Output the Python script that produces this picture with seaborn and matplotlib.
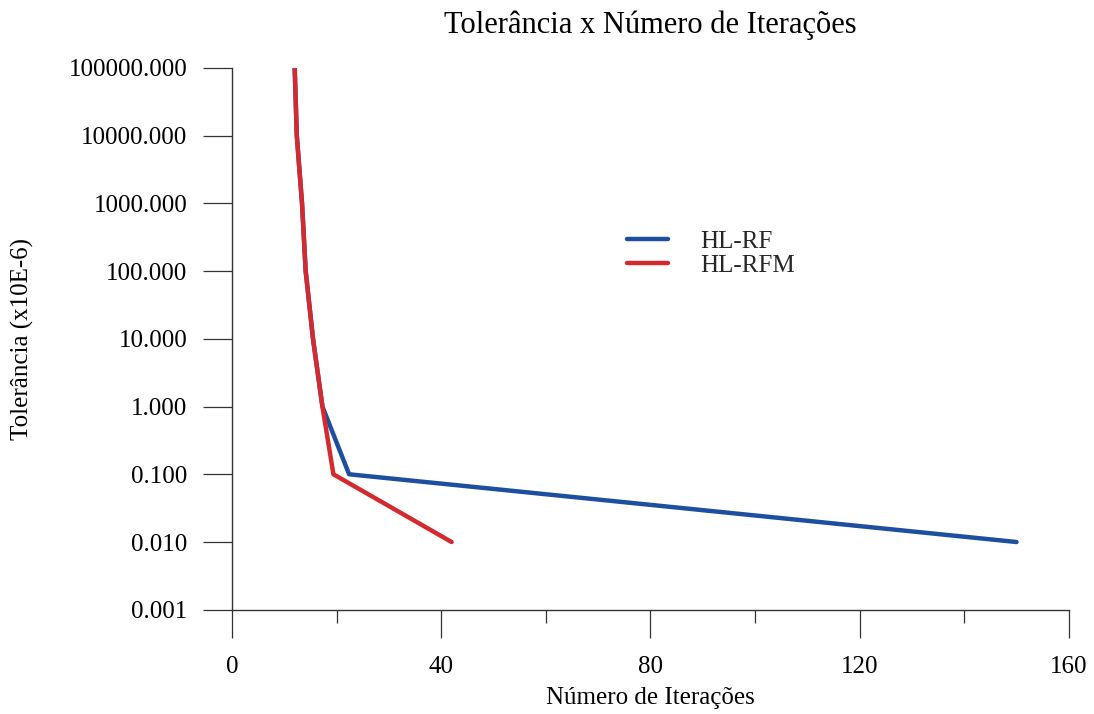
import matplotlib
matplotlib.use("Agg")
import matplotlib.pyplot as plt
import seaborn as sns
import pandas as pd
from matplotlib.ticker import FixedLocator, FixedFormatter, MultipleLocator

tolerance = [100000, 10000, 1000, 100, 10, 1, 0.1, 0.01]
iters_hlrf = [12, 12.4, 13.4, 14.1, 15.5, 17.3, 22.4, 150]
iters_hlrfm = [12, 12.4, 13.4, 14.1, 15.5, 17.3, 19.4, 42]
series_names = ["HL-RF", "HL-RFM"]
y_ticks = [0.001, 0.01, 0.1, 1, 10, 100, 1000, 10000, 100000]
x_ticks = [0, 40, 80, 120, 160]

df = pd.concat([
    pd.DataFrame({"iter": iters_hlrf, "tol": tolerance, "serie": series_names[0]}),
    pd.DataFrame({"iter": iters_hlrfm, "tol": tolerance, "serie": series_names[1]}),
], ignore_index=True)

sns.set_style("ticks")
plt.rcParams["font.family"] = ["Liberation Serif", "DejaVu Serif"]

fig = plt.figure(figsize=(10.94, 7.14), dpi=100)
ax = fig.add_axes([0.212, 0.146, 0.765, 0.759])

sns.lineplot(data=df, x="iter", y="tol", hue="serie", estimator=None, sort=False,
             palette={"HL-RF": "#1d4f9e", "HL-RFM": "#d42a2f"}, linewidth=3.2, ax=ax)

ax.set_yscale("log")
ax.set_xlim(0, 160)
ax.set_ylim(0.001, 100000)
ax.yaxis.set_major_locator(FixedLocator(y_ticks))
ax.yaxis.set_major_formatter(FixedFormatter([f"{v:.3f}" for v in y_ticks]))
ax.yaxis.set_minor_locator(FixedLocator([]))
ax.xaxis.set_major_locator(FixedLocator(x_ticks))
ax.xaxis.set_minor_locator(MultipleLocator(20))

for s in ["top", "right"]:
    ax.spines[s].set_visible(False)
for s in ["left", "bottom"]:
    ax.spines[s].set_color("#333333")
    ax.spines[s].set_linewidth(1.0)

ax.tick_params(axis="y", which="major", length=21, width=0.9, color="#333333",
               labelsize=18, pad=11, labelcolor="#000000")
ax.tick_params(axis="x", which="major", length=20, width=0.9, color="#333333",
               labelsize=18, pad=13, labelcolor="#000000")
ax.tick_params(axis="x", which="minor", length=9.5, width=0.9, color="#333333")

ax.set_xlabel("Número de Iterações", fontsize=18, labelpad=7, color="#000000")
ax.set_ylabel("Tolerância (x10E-6)", fontsize=18, labelpad=25, color="#000000")
ax.set_title("Tolerância x Número de Iterações", fontsize=22, pad=25, color="#000000")

ax.legend(loc="upper left", bbox_to_anchor=(0.472, 0.70), frameon=False, fontsize=18,
          handlelength=1.65, handletextpad=1.3, labelspacing=0.05,
          borderpad=0, borderaxespad=0)

fig.savefig("out.png", dpi=100)
